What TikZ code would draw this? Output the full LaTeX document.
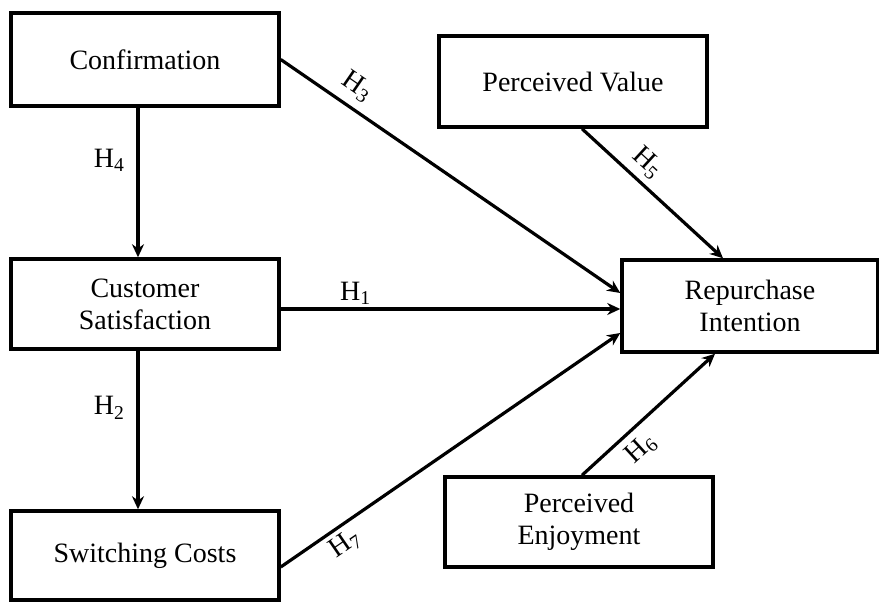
\documentclass[tikz,border=0pt]{standalone}
\usepackage{fontspec}
\setmainfont{Liberation Serif}
\usetikzlibrary{positioning, arrows.meta}

\tikzset{
  construct/.style={draw, line width=3.5pt, minimum width=268pt, inner sep=0pt,
    align=center, font=\fontsize{28}{32}\selectfont},
  path/.style={->, line width=3.2pt},
  hyp/.style={font=\fontsize{28}{32}\selectfont, inner sep=2pt},
}

\begin{document}
\begin{tikzpicture}[x=1pt, y=-1pt, >={Stealth[length=13pt, width=12pt]}]

\useasboundingbox (0,0) rectangle (879,603);

% ---------- constructs ----------
\node[construct, minimum height=93pt] (conf) at (145,59.5)  {Confirmation};
\node[construct, minimum height=90pt] (sat)  at (145,304)   {Customer\\Satisfaction};
\node[construct, minimum height=89pt] (sw)   at (145,555.5) {Switching Costs};
\node[construct, minimum height=91pt] (pv)   at (573,81.5)  {Perceived Value};
\node[construct, minimum height=90pt] (pe)   at (579,522)   {Perceived\\Enjoyment};
\node[construct, minimum height=92pt, minimum width=256pt] (ri) at (750,306) {Repurchase\\Intention};

% ---------- left column ----------
\draw[path] ([xshift=-7pt]conf.south) -- node[hyp, pos=0.35, left=10pt]{H\textsubscript{4}} ([xshift=-7pt]sat.north);
\draw[path] ([xshift=-7pt]sat.south)  -- node[hyp, pos=0.36, left=10pt]{H\textsubscript{2}} ([xshift=-7pt]sw.north);

% ---------- paths into repurchase intention ----------
\draw[path] (conf.east) -- node[hyp, pos=0.19, sloped, above=6pt]{H\textsubscript{3}} ([yshift=13pt]ri.west);
\draw[path] ([yshift=-5pt]sat.east) -- node[hyp, pos=0.22, above=1pt]{H\textsubscript{1}} ([yshift=-3pt]ri.west);
\draw[path] ([yshift=-11.5pt]sw.east) -- node[hyp, pos=0.16, sloped, below=3pt]{H\textsubscript{7}} ([yshift=-27pt]ri.west);
\draw[path] ([xshift=9pt]pv.south) -- node[hyp, pos=0.37, sloped, above=4pt]{H\textsubscript{5}} ([xshift=-27pt]ri.north);
\draw[path] ([xshift=3pt]pe.north) -- node[hyp, pos=0.34, sloped, below=5pt]{H\textsubscript{6}} ([xshift=-35pt]ri.south);

\end{tikzpicture}
\end{document}
